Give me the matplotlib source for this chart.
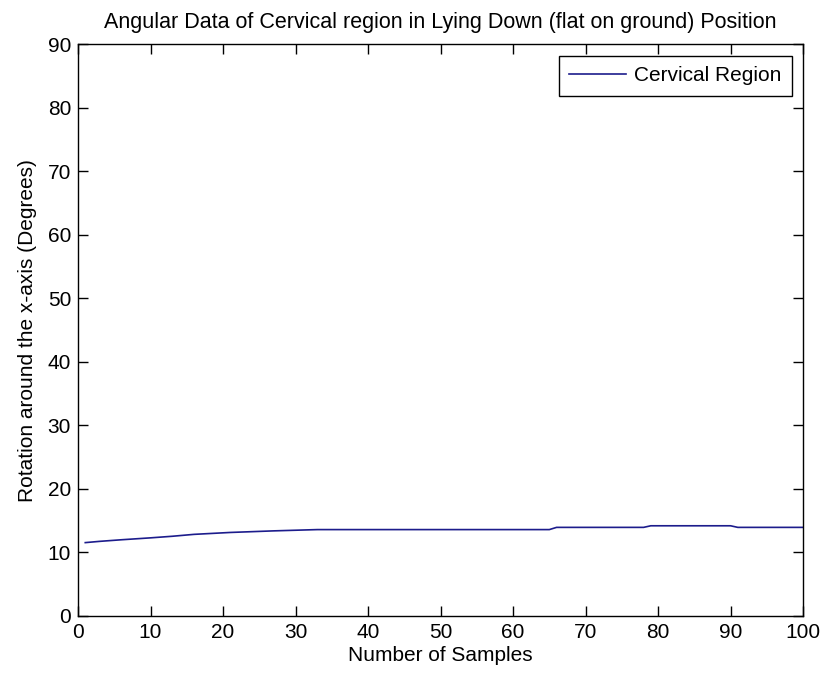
import matplotlib
matplotlib.use("Agg")
import matplotlib.pyplot as plt

# samples
samples = [1, 3, 6, 10, 13, 16, 21, 27, 33, 40, 50, 60, 65, 66, 78, 79, 90, 91, 100]
angle = [11.55, 11.75, 12.0, 12.3, 12.55, 12.85, 13.15, 13.4, 13.6, 13.6, 13.6, 13.6, 13.6,
         13.95, 13.95, 14.2, 14.2, 13.95, 13.95]

xticks = list(range(0, 101, 10))
yticks = list(range(0, 91, 10))

plt.rcParams['font.family'] = ['Liberation Sans', 'DejaVu Sans']

fig = plt.figure(figsize=(8.23, 6.79), dpi=100)
ax = fig.add_axes([0.0948, 0.0928, 0.881, 0.842])

ax.plot(samples, angle, color='#1c1c8c', linewidth=1.2, label='Cervical Region')

ax.set_xlim(0, 100)
ax.set_ylim(0, 90)
ax.set_xticks(xticks)
ax.set_yticks(yticks)
ax.tick_params(direction='in', top=True, right=True, labelsize=15, length=7, width=1, pad=5)
for s in ax.spines.values():
    s.set_linewidth(1.0)

ax.set_title('Angular Data of Cervical region in Lying Down (flat on ground) Position',
             fontsize=15.5, pad=12)
ax.set_xlabel('Number of Samples', fontsize=15, labelpad=3)
ax.set_ylabel('Rotation around the x-axis (Degrees)', fontsize=15, labelpad=8)

leg = ax.legend(loc='upper right', fontsize=15, fancybox=False, edgecolor='black',
                framealpha=1, borderaxespad=0.55, handlelength=2.7, borderpad=0.5,
                handletextpad=0.4)
leg.get_frame().set_linewidth(1.0)

fig.savefig('out.png', dpi=100)
